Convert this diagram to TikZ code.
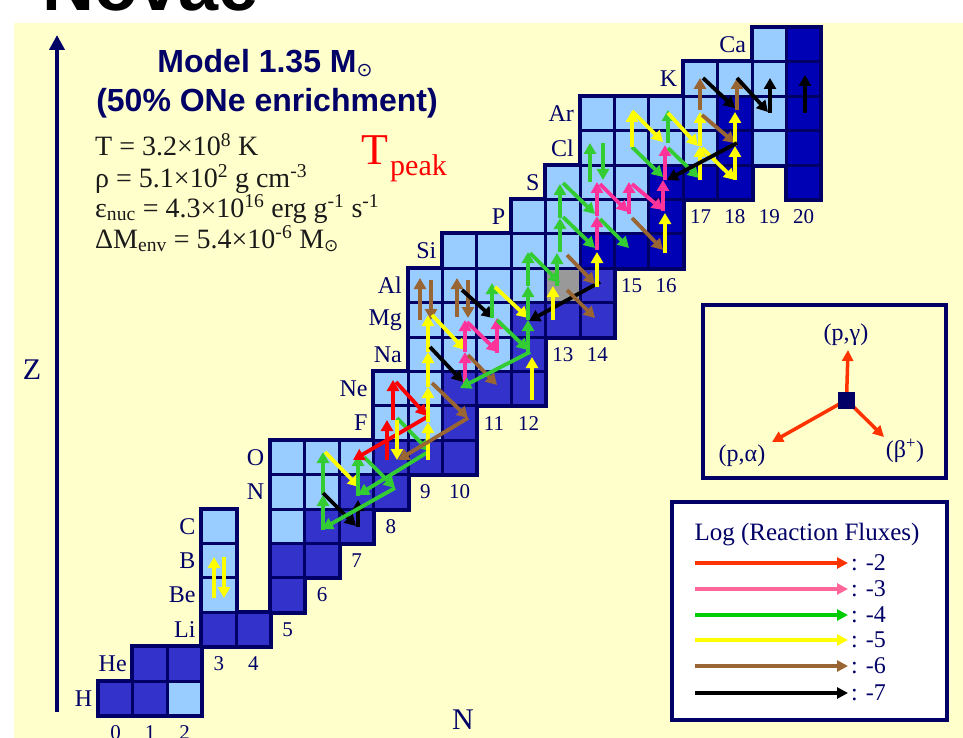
\documentclass[tikz,border=0pt]{standalone}
\usepackage{fontspec}
\setmainfont{Liberation Serif}
\newfontfamily\arialf{Liberation Sans}
\newfontfamily\djv{DejaVu Sans}
\usetikzlibrary{arrows.meta}
\definecolor{navy}{HTML}{000066}
\definecolor{bgy}{HTML}{FFFFCC}
\definecolor{lite}{HTML}{99CCFF}
\definecolor{med}{HTML}{3333CC}
\definecolor{deep}{HTML}{0000B4}
\definecolor{gry}{HTML}{999999}
\definecolor{cR}{HTML}{FF0000}
\definecolor{cP}{HTML}{FF3399}
\definecolor{cG}{HTML}{33CC33}
\definecolor{cY}{HTML}{FFFF00}
\definecolor{cB}{HTML}{996633}
\definecolor{cK}{HTML}{000000}
\definecolor{lR}{HTML}{FF3300}
\definecolor{lP}{HTML}{FF6699}
\definecolor{lG}{HTML}{00CC00}
\definecolor{txt}{HTML}{1A1A1A}
\tikzset{
  fl/.style={draw=#1, line width=3.8pt, -{Triangle[width=12pt,length=11pt]}},
  legarrow/.style={draw=#1, line width=4pt, -{Triangle[width=11pt,length=11pt]}},
  elem/.style={anchor=east, text=navy, font=\fontsize{24}{24}\selectfont, inner sep=0pt},
  num/.style={text=navy, font=\fontsize{21}{21}\selectfont, inner sep=0pt},
  par/.style={anchor=base west, text=txt, font=\fontsize{28}{30}\selectfont, inner sep=0pt},
  leg/.style={text=navy, font=\fontsize{24}{24}\selectfont, inner sep=0pt}
}
\newcommand\cellrow[2]{% #1 = Z, #2 = list N/color
  \foreach \nn/\cc in {#2}{
    \filldraw[fill=\cc, draw=navy, line width=3pt] ({98.5+34.4*\nn},{715.5-34.4*#1}) rectangle ++(34.4,34.4);
  }}
\newcommand\cellback[2]{%
  \foreach \nn/\cc in {#2}{
    \fill[navy] ({98.5+34.4*\nn-2.5},{715.5-34.4*#1-2.5}) rectangle ++(39.4,39.4);
  }}
\newcommand\allrows[1]{%
  #1{1}{0/med,1/med,2/lite}
  #1{2}{1/med,2/med}
  #1{3}{3/med,4/med}
  #1{4}{3/lite,5/med}
  #1{5}{3/lite,5/med,6/med}
  #1{6}{3/lite,5/lite,6/med,7/med}
  #1{7}{5/lite,6/lite,7/med,8/med}
  #1{8}{5/lite,6/lite,7/lite,8/med,9/med,10/med}
  #1{9}{8/lite,9/lite,10/med}
  #1{10}{8/lite,9/lite,10/med,11/med,12/med}
  #1{11}{9/lite,10/lite,11/lite,12/med}
  #1{12}{9/lite,10/lite,11/lite,12/med,13/med,14/med}
  #1{13}{9/lite,10/lite,11/lite,12/lite,13/gry,14/med}
  #1{14}{10/lite,11/lite,12/lite,13/lite,14/deep,15/deep,16/deep}
  #1{15}{12/lite,13/lite,14/lite,15/lite,16/deep}
  #1{16}{13/lite,14/lite,15/lite,16/deep,17/deep,18/deep,20/deep}
  #1{17}{14/lite,15/lite,16/lite,17/lite,18/deep,19/lite,20/deep}
  #1{18}{14/lite,15/lite,16/lite,17/lite,18/deep,19/lite,20/deep}
  #1{19}{17/lite,18/lite,19/lite,20/deep}
  #1{20}{19/lite,20/deep}
}
\newcommand\fa[3]{\draw[fl=#1] #2 -- #3;}
\newcommand\sunA{\raisebox{-0.22ex}{\djv\mdseries\fontsize{19}{19}\selectfont ⊙}}
\newcommand\sunB{\raisebox{-0.3ex}{\djv\fontsize{17}{17}\selectfont ⊙}}
\begin{document}
\begin{tikzpicture}[x=1pt,y=-1pt]
\useasboundingbox (0,0) rectangle (963,738);
\fill[white] (0,0) rectangle (963,738);
\fill[bgy] (14,23) rectangle (963,738);
\node[anchor=base west, inner sep=0pt, font=\arialf\bfseries\fontsize{72}{72}\selectfont] (title) at (42,11) {Novae};

% ---------- cells ----------
\allrows{\cellback}
\allrows{\cellrow}

% ---------- element labels ----------
\foreach \lab/\nn/\z in {H/0/1,He/1/2,Li/3/3,Be/3/4,B/3/5,C/3/6,N/5/7,O/5/8,F/8/9,Ne/8/10,Na/9/11,Mg/9/12,Al/9/13,Si/10/14,P/12/15,S/13/16,Cl/14/17,Ar/14/18,K/17/19,Ca/19/20}{
  \node[elem] (el-\lab) at ({98.5+34.4*\nn-6},{732.7-34.4*\z}) {\lab};
}
% ---------- neutron numbers ----------
\foreach \nn/\z in {0/0,1/0,2/0,3/2,4/2,5/3,6/4,7/5,8/6,9/7,10/7,11/9,12/9,13/11,14/11,15/13,16/13,17/15,18/15,19/15,20/15}{
  \node[num] (nn-\nn) at ({115.7+34.4*\nn},{732.7-34.4*\z}) {\nn};
}

% ---------- axes ----------
\coordinate (zbot) at (57,712);
\coordinate (ztop) at (57,35);
\draw[navy, line width=4.5pt, -{Triangle[width=15pt,length=15pt]}] (zbot) -- (ztop);
\node[text=navy, font=\fontsize{30}{30}\selectfont] (zlab) at (32,370) {Z};
\node[text=navy, font=\fontsize{30}{30}\selectfont] (nlab) at (463,720) {N};

% ---------- headline ----------
\node[text=navy, font=\arialf\bfseries\fontsize{32}{32}\selectfont] (model) at (265,63) {Model 1.35 M\sunA};
\node[text=navy, font=\arialf\bfseries\fontsize{32}{32}\selectfont] (enr) at (267,103) {(50\% ONe enrichment)};
\node[par] (p1) at (95,156) {T = 3.2×10\textsuperscript{8} K};
\node[par] (p2) at (95,187) {ρ = 5.1×10\textsuperscript{2} g cm\textsuperscript{-3}};
\node[par] (p3) at (95,217) {ε\textsubscript{nuc} = 4.3×10\textsuperscript{16} erg g\textsuperscript{-1} s\textsuperscript{-1}};
\node[par] (p4) at (95,248) {ΔM\textsubscript{env} = 5.4×10\textsuperscript{-6} M\sunB};
\node[anchor=base west, inner sep=0pt, text=red, font=\fontsize{44}{44}\selectfont] (tp) at (361,165) {T};
\node[anchor=base west, inner sep=0pt, text=red, font=\fontsize{30}{30}\selectfont] (tpk) at (390,176) {peak};

% ---------- reaction arrows ----------
% light
\fa{cY}{(214,598)}{(214,557)}
\fa{cY}{(224,557)}{(224,598)}
% CNO
\fa{cK}{(358,527)}{(358,500)}
\fa{cG}{(323,530)}{(323,495)}
\fa{cG}{(323,495)}{(323,452)}
\fa{cK}{(323,493)}{(356,526)}
\fa{cY}{(325,452)}{(359,487)}
\fa{cG}{(358,496)}{(358,455)}
\fa{cG}{(364,457)}{(395,488)}
\fa{cG}{(395,488)}{(322,529)}
\fa{cG}{(428,452)}{(358,495)}
\fa{cG}{(397,418)}{(429,451)}
\fa{cR}{(387,460)}{(387,420)}
\fa{cR}{(393,420)}{(393,380)}
\fa{cR}{(396,382)}{(427,416)}
\fa{cR}{(427,417)}{(353,460)}
\fa{cY}{(397,420)}{(397,460)}
\fa{cY}{(428,460)}{(428,422)}
\fa{cY}{(428,422)}{(428,387)}
\fa{cY}{(428,387)}{(428,352)}
\fa{cY}{(428,352)}{(428,315)}
\fa{cB}{(432,383)}{(468,418)}
\fa{cB}{(468,418)}{(398,460)}
% Ne - Al
\fa{cB}{(420,320)}{(420,278)}
\fa{cB}{(431,280)}{(431,320)}
\fa{cB}{(457,317)}{(457,278)}
\fa{cB}{(468,280)}{(468,318)}
\fa{cY}{(432,315)}{(465,350)}
\fa{cK}{(430,347)}{(463,382)}
\fa{cP}{(465,385)}{(465,352)}
\fa{cP}{(465,352)}{(465,320)}
\fa{cP}{(467,322)}{(498,352)}
\fa{cP}{(497,353)}{(497,318)}
\fa{cB}{(468,355)}{(497,385)}
\fa{cK}{(462,290)}{(493,318)}
\fa{cG}{(492,318)}{(492,283)}
\fa{cY}{(495,287)}{(528,318)}
\fa{cG}{(497,320)}{(528,350)}
\fa{cG}{(530,352)}{(460,388)}
\fa{cG}{(528,354)}{(528,320)}
\fa{cG}{(528,320)}{(528,286)}
\fa{cG}{(528,286)}{(528,252)}
\fa{cY}{(532,400)}{(532,357)}
\fa{cK}{(600,282)}{(529,321)}
% Al - P
\fa{cG}{(530,253)}{(560,283)}
\fa{cY}{(553,320)}{(553,286)}
\fa{cG}{(557,286)}{(557,253)}
\fa{cG}{(560,252)}{(560,218)}
\fa{cG}{(560,218)}{(560,184)}
\fa{cG}{(563,217)}{(595,248)}
\fa{cG}{(563,183)}{(595,214)}
\fa{cB}{(567,255)}{(595,284)}
\fa{cB}{(567,290)}{(595,318)}
\fa{cY}{(597,287)}{(597,252)}
\fa{cP}{(597,250)}{(597,216)}
\fa{cP}{(597,216)}{(597,182)}
\fa{cG}{(590,182)}{(590,143)}
\fa{cG}{(603,143)}{(603,180)}
\fa{cP}{(600,184)}{(628,212)}
\fa{cG}{(600,219)}{(629,248)}
\fa{cP}{(629,214)}{(629,182)}
\fa{cP}{(632,184)}{(663,210)}
\fa{cB}{(632,218)}{(663,250)}
\fa{cP}{(663,211)}{(663,180)}
\fa{cY}{(665,253)}{(665,213)}
\fa{cP}{(665,180)}{(665,145)}
% S - Ca
\fa{cG}{(632,147)}{(663,177)}
\fa{cY}{(632,147)}{(632,111)}
\fa{cY}{(632,111)}{(663,142)}
\fa{cG}{(668,143)}{(668,110)}
\fa{cY}{(668,113)}{(698,146)}
\fa{cG}{(668,148)}{(699,178)}
\fa{cY}{(700,180)}{(700,146)}
\fa{cY}{(700,146)}{(700,112)}
\fa{cB}{(700,110)}{(700,78)}
\fa{cB}{(702,115)}{(735,143)}
\fa{cY}{(702,148)}{(735,180)}
\fa{cY}{(735,180)}{(735,146)}
\fa{cY}{(735,146)}{(735,112)}
\fa{cK}{(737,143)}{(667,180)}
\fa{cB}{(737,110)}{(737,78)}
\fa{cK}{(703,78)}{(735,108)}
\fa{cK}{(737,78)}{(768,112)}
\fa{cK}{(770,113)}{(770,78)}
\fa{cK}{(805,113)}{(805,75)}

% ---------- reaction-type box ----------
\draw[navy, line width=3.5pt, fill=bgy] (703,305) rectangle (946,478);
\node[fill=navy, minimum size=17pt, inner sep=0pt] (sq) at (846.5,400) {};
\coordinate (pg) at (848,350);
\coordinate (pa) at (772,442);
\coordinate (bp) at (884,437);
\draw[lR, line width=3.5pt, -{Triangle[width=11pt,length=11pt]}] (sq.center) -- (pg);
\draw[lR, line width=3.5pt, -{Triangle[width=11pt,length=11pt]}] (sq.center) -- (pa);
\draw[lR, line width=3.5pt, -{Triangle[width=11pt,length=11pt]}] (sq.center) -- (bp);
\node[fill=navy, minimum size=17pt, inner sep=0pt] at (sq) {};
\node[leg] (lpg) at (846,335) {(p,γ)};
\node[leg] (lpa) at (742,456) {(p,α)};
\node[leg] (lbp) at (905,451) {(β\textsuperscript{+})};

% ---------- flux legend ----------
\draw[navy, line width=4pt, fill=white] (672,502) rectangle (947,720);
\node[leg, font=\fontsize{25}{25}\selectfont] (lt) at (807,535) {Log (Reaction Fluxes)};
\foreach \cc/\yy/\vv in {lR/563/2,lP/589/3,lG/615/4,cY/640/5,cB/666/6,cK/693/7}{
  \coordinate (la\vv) at (695,\yy);
  \coordinate (lb\vv) at (848,\yy);
  \draw[legarrow=\cc] (la\vv) -- (lb\vv);
  \node[leg, anchor=west] (lv\vv) at (851,\yy) {: -\vv};
}
\end{tikzpicture}
\end{document}
